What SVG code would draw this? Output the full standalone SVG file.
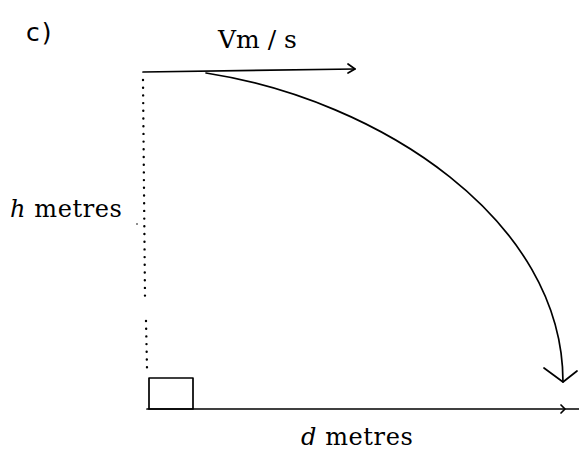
<svg xmlns="http://www.w3.org/2000/svg" width="579" height="453" viewBox="0 0 579 453">
<style>
.ln{fill:none;stroke:#000;stroke-width:1.7;stroke-linecap:round;stroke-linejoin:round}
.dot{fill:none;stroke:#000;stroke-width:2.4;stroke-linecap:round;stroke-dasharray:0 7.7}
.t{font-family:"DejaVu Serif","Liberation Serif",serif;fill:#000}
.s{font-family:"DejaVu Sans","Liberation Sans",sans-serif;fill:#000}
</style>
<rect width="579" height="453" fill="#fff"/>
<g id="label-c"><text class="s" x="26" y="41" font-size="25" letter-spacing="2">c)</text></g>
<g id="label-v"><text class="t" x="218" y="48" font-size="25">Vm / s</text></g>
<g id="label-h"><text class="t" x="10" y="217" font-size="24" letter-spacing="0.6"><tspan font-style="italic">h</tspan> metres</text></g>
<g id="label-d"><text class="t" x="301" y="445" font-size="24" letter-spacing="0.6"><tspan font-style="italic">d</tspan> metres</text></g>
<g id="block"><rect class="ln" x="149" y="378" width="44" height="31"/></g>
<g id="connectors">
<path class="ln" d="M143,72 L355,69"/>
<path class="ln" d="M348,64 L355,69 L348,73"/>
<path class="ln" d="M206,73 C380,100 563,220 563,382"/>
<path class="ln" d="M544,368 L563,382 L577,371"/>
<path class="ln" d="M147,409 L579,409"/>
<path class="ln" d="M561,405 L565,409 L561,413"/>
<path class="dot" d="M143,80 L145,298"/>
<path class="dot" d="M146,321 L147,368"/>
<circle cx="137" cy="224" r="0.8" fill="#000"/>
</g>
</svg>
